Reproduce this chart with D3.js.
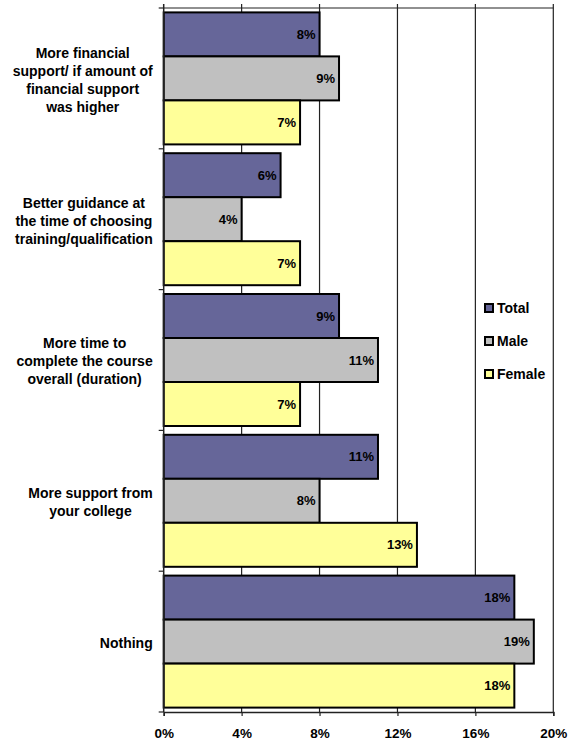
<!DOCTYPE html>
<html>
<head>
<meta charset="utf-8">
<script src="https://cdn.jsdelivr.net/npm/d3@7"></script>
<style>
  body { margin: 0; background: #fff; }
  text { font-family: Arial, "Liberation Sans", sans-serif; font-weight: bold; fill: #000; }
</style>
</head>
<body>
<script>
// chart data
const categories = [
  ["More financial", "support/ if amount of", "financial support", "was higher"],
  ["Better guidance at", "the time of choosing", "training/qualification"],
  ["More time to", "complete the course", "overall (duration)"],
  ["More support from", "your college"],
  ["Nothing"]
];
const seriesNames = ["Total", "Male", "Female"];
const seriesColors = ["#666699", "#C0C0C0", "#FFFF99"];
const totalValues = [8, 6, 9, 11, 18];
const maleValues = [9, 4, 11, 8, 19];
const femaleValues = [7, 7, 7, 13, 18];
const xTicks = [0, 4, 8, 12, 16, 20];

const allValues = [totalValues, maleValues, femaleValues];

const svg = d3.select("body").append("svg")
  .attr("width", 572)
  .attr("height", 742);

const plotLeft = 163.7, plotRight = 553.3, plotTop = 8, plotBottom = 712;

let x = d3.scaleLinear().domain([0, 20]).range([plotLeft, plotRight]);
let y = d3.scaleBand().domain(d3.range(categories.length)).range([plotTop, plotBottom]);
let ySub = d3.scaleBand().domain(d3.range(seriesNames.length))
  .range([4.4, y.bandwidth() - 4.4]);

// gridlines (stick out a little above the top border)
svg.append("g").selectAll("line")
  .data(xTicks.slice(1))
  .enter().append("line")
  .attr("x1", (d) => x(d)).attr("x2", (d) => x(d))
  .attr("y1", plotTop - 4).attr("y2", plotBottom)
  .attr("stroke", "#222")
  .attr("stroke-width", 1.2);

// top border
svg.append("line")
  .attr("x1", plotLeft).attr("x2", plotRight)
  .attr("y1", plotTop).attr("y2", plotTop)
  .attr("stroke", "#222").attr("stroke-width", 1.2);

// bars
let groups = svg.append("g").selectAll("g")
  .data(categories)
  .enter().append("g")
  .attr("transform", (d, i) => "translate(0," + y(i) + ")");

groups.each(function(c, ci) {
  let g = d3.select(this);
  seriesNames.forEach((s, si) => {
    let v = allValues[si][ci];
    g.append("rect")
      .attr("x", x(0))
      .attr("y", ySub(si))
      .attr("width", x(v) - x(0))
      .attr("height", ySub.bandwidth())
      .attr("fill", seriesColors[si])
      .attr("stroke", "#000")
      .attr("stroke-width", 2);
    g.append("text")
      .attr("x", x(v) - 4)
      .attr("y", ySub(si) + ySub.bandwidth() / 2)
      .attr("dy", "0.35em")
      .attr("text-anchor", "end")
      .style("font-size", "13px")
      .text(v + "%");
  });
});

// bottom axis
let xAxis = d3.axisBottom(x)
  .tickValues(xTicks)
  .tickFormat((d) => d + "%")
  .tickSize(4)
  .tickPadding(12);
let gx = svg.append("g")
  .attr("transform", "translate(0," + plotBottom + ")")
  .call(xAxis);
gx.select(".domain").attr("stroke", "#222").attr("stroke-width", 1.5);
gx.selectAll(".tick line").attr("stroke", "#222").attr("stroke-width", 1.2);
gx.selectAll("text")
  .style("font-size", "13.5px")
  .style("font-family", "Arial, 'Liberation Sans', sans-serif")
  .style("font-weight", "bold")
  .attr("fill", "#000");

// left axis with ticks at category boundaries
let boundaries = d3.range(categories.length + 1).map((i) => plotTop + i * y.bandwidth());
svg.append("line")
  .attr("x1", plotLeft).attr("x2", plotLeft)
  .attr("y1", plotTop - 4).attr("y2", plotBottom)
  .attr("stroke", "#222").attr("stroke-width", 1.5);
svg.append("g").selectAll("line")
  .data(boundaries)
  .enter().append("line")
  .attr("x1", plotLeft - 5).attr("x2", plotLeft)
  .attr("y1", (d) => d).attr("y2", (d) => d)
  .attr("stroke", "#222").attr("stroke-width", 1.2);

// category labels: lines centred in a box whose right edge sits near the axis
const lineH = 18;
const labelRight = 152.7;
categories.forEach((lines, i) => {
  let cy = y(i) + y.bandwidth() / 2 + 1.5;
  let t = svg.append("text")
    .attr("text-anchor", "middle")
    .style("font-size", "14px");
  let spans = lines.map((ln, j) => t.append("tspan")
    .attr("y", cy + (j - (lines.length - 1) / 2) * lineH)
    .attr("dy", "0.35em")
    .text(ln));
  let maxW = d3.max(spans, (s) => s.node().getComputedTextLength());
  spans.forEach((s) => s.attr("x", labelRight - maxW / 2));
});

// legend
const legendY = [308, 341, 374];
seriesNames.forEach((s, i) => {
  svg.append("rect")
    .attr("x", 485).attr("y", legendY[i] - 4)
    .attr("width", 8).attr("height", 8)
    .attr("fill", seriesColors[i])
    .attr("stroke", "#000").attr("stroke-width", 2);
  svg.append("text")
    .attr("x", 497)
    .attr("y", legendY[i])
    .attr("dy", "0.35em")
    .style("font-size", "14px")
    .text(s);
});
</script>
</body>
</html>
